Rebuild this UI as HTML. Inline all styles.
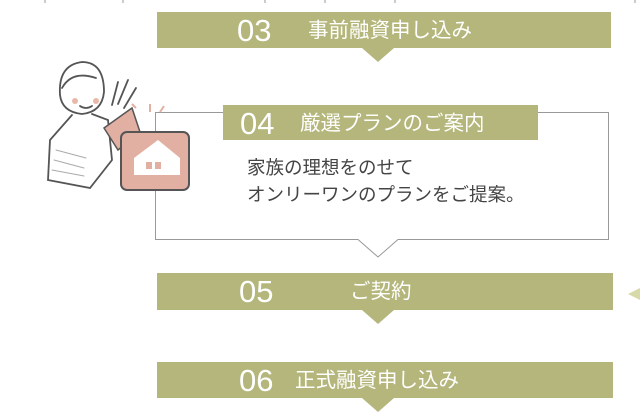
<!DOCTYPE html>
<html><head><meta charset="utf-8"><style>
body{margin:0;width:640px;height:412px;overflow:hidden;background:#fff;position:relative;font-family:"Liberation Sans","Noto Sans CJK JP",sans-serif}
.bar{position:absolute;background:#b4b67b;color:#fff}
.num{position:absolute;font-size:31px;top:0;line-height:37px}
.lab{position:absolute;font-size:20.5px;top:0;line-height:38px}
.tri{position:absolute;width:0;height:0;border-left:16px solid transparent;border-right:16px solid transparent;border-top:14px solid #b4b67b}
</style></head><body>
<svg width="640" height="412" style="position:absolute;left:0;top:0">
<g stroke="#999" stroke-width="1"><line x1="45" y1="0" x2="45" y2="3"/><line x1="123" y1="0" x2="123" y2="3"/><line x1="265" y1="0" x2="265" y2="3"/><line x1="325" y1="0" x2="325" y2="3"/><line x1="395" y1="0" x2="395" y2="3"/><line x1="635" y1="0" x2="635" y2="3"/></g>
<path d="M155.5 112.5 H608.5 V239.5 H398 L378 257 L358 239.5 H155.5 Z" fill="#fff" stroke="#999"/>
<polygon points="628,294 640,288 640,300" fill="#d8d9a8"/>
<g stroke="#555" stroke-width="1.8" fill="none" stroke-linecap="round">
<path d="M60 95 Q58 65 82 62 Q104 62 104 92 Q102 112 82 114 Q62 112 60 95Z" fill="#fff"/>
<path d="M62 88 Q72 70 96 78"/>
<circle cx="75" cy="101" r="3" fill="#eab8a8" stroke="none"/><circle cx="96" cy="101" r="3" fill="#eab8a8" stroke="none"/>
<path d="M80 106 Q86 110 92 106"/>
<path d="M72 115 L50 140 L48 180 L90 188 L112 160 L108 120 L92 114"/>
<path d="M56 150 L86 158 M54 160 L84 168 M52 170 L84 176" stroke="#aaa" stroke-width="1"/>
<path d="M112 105 L118 82 M118 104 L128 80 M124 108 L136 88"/>
</g>
<path d="M104 128 L132 108 L140 132 L118 150 Z" fill="#e2b0a3" stroke="#555" stroke-width="1.5"/>
<rect x="121" y="132" width="68" height="58" rx="6" fill="#e2b0a3" stroke="#555" stroke-width="2"/>
<path d="M134 175 L134 158 L158 140 L180 158 L180 175 Z" fill="#fff"/>
<rect x="146" y="162" width="6" height="7" fill="#e2b0a3"/><rect x="155" y="162" width="6" height="7" fill="#e2b0a3"/>
<path d="M150 104 L150 112 M160 112 L164 106 M132 104 L136 108" stroke="#e2b0a3" stroke-width="2"/>
</svg>
<div class="bar" style="left:157px;top:12px;width:454px;height:36px"><span class="num" style="left:80px">03</span><span class="lab" style="left:151px">事前融資申し込み</span></div>
<div class="tri" style="left:362px;top:48px"></div>
<div class="bar" style="left:223px;top:105px;width:315px;height:35px"><span class="num" style="left:17px">04</span><span class="lab" style="left:77px">厳選プランのご案内</span></div>
<div style="position:absolute;left:247px;top:154px;font-size:18.5px;line-height:27px;color:#444">家族の理想をのせて<br>オンリーワンのプランをご提案。</div>
<div class="bar" style="left:157px;top:273px;width:456px;height:37px"><span class="num" style="left:82px">05</span><span class="lab" style="left:193px">ご契約</span></div>
<div class="tri" style="left:362px;top:310px"></div>
<div class="bar" style="left:157px;top:362px;width:456px;height:36px"><span class="num" style="left:82px">06</span><span class="lab" style="left:138px">正式融資申し込み</span></div>
<div class="tri" style="left:362px;top:398px"></div>
</body></html>
